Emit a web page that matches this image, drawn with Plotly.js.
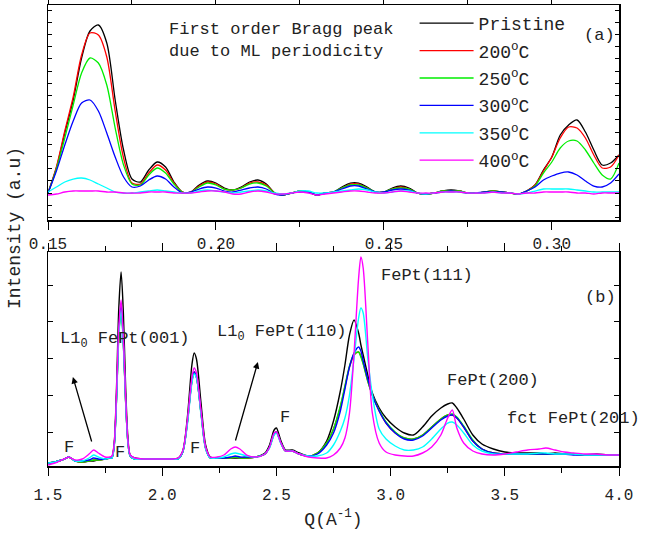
<!DOCTYPE html>
<html><head><meta charset="utf-8">
<script src="https://cdn.plot.ly/plotly-3.0.1.min.js"></script>
<style>html,body{margin:0;padding:0;background:#fff}</style>
</head><body>
<div id="chart" style="width:647px;height:536px"></div>
<script>
// ---- panel (a): low-angle region ----
const seriesNames = ['Pristine','200<sup style="font-size:12px">o</sup>C','250<sup style="font-size:12px">o</sup>C','300<sup style="font-size:12px">o</sup>C','350<sup style="font-size:12px">o</sup>C','400<sup style="font-size:12px">o</sup>C'];
const seriesColors = ['#000000','#ff0000','#00ee00','#0000ff','#00ffff','#ff00ff'];

const qA = [0.1500,0.1525,0.1550,0.1575,0.1600,0.1625,0.1650,0.1675,0.1700,0.1725,
0.1750,0.1775,0.1800,0.1825,0.1850,0.1875,0.1900,0.1925,0.1950,0.1975,
0.2000,0.2025,0.2050,0.2075,0.2100,0.2125,0.2150,0.2175,0.2200,0.2225,
0.2250,0.2275,0.2300,0.2325,0.2350,0.2375,0.2400,0.2425,0.2450,0.2475,
0.2500,0.2525,0.2550,0.2575,0.2600,0.2625,0.2650,0.2675,0.2700,0.2725,
0.2750,0.2775,0.2800,0.2825,0.2850,0.2875,0.2900,0.2925,0.2950,0.2975,
0.3000,0.3025,0.3050,0.3075,0.3100,0.3125,0.3150,0.3175,0.3200];

const aPristine = [0.00,0.25,0.60,0.93,1.35,1.62,1.68,1.50,0.93,0.43,
0.14,0.11,0.23,0.31,0.26,0.11,0.01,0.01,0.08,0.12,
0.10,0.05,0.03,0.06,0.11,0.13,0.09,0.00,-0.02,0.00,
0.02,0.01,-0.02,0.00,0.01,0.06,0.10,0.10,0.06,0.01,
0.01,0.05,0.07,0.05,0.00,-0.01,0.00,0.02,0.03,0.02,
0.00,0.00,0.01,0.02,0.01,0.00,-0.01,0.02,0.08,0.23,
0.36,0.58,0.68,0.73,0.61,0.43,0.28,0.30,0.38];
const a200 = [0.00,0.26,0.62,0.96,1.38,1.60,1.58,1.36,0.82,0.35,
0.10,0.09,0.20,0.28,0.23,0.10,0.01,0.01,0.07,0.11,
0.09,0.04,0.03,0.05,0.10,0.11,0.08,0.00,-0.02,0.00,
0.02,0.01,-0.02,0.00,0.01,0.05,0.09,0.09,0.05,0.01,
0.01,0.04,0.06,0.04,0.00,-0.01,0.00,0.02,0.02,0.02,
0.00,0.00,0.01,0.02,0.01,0.00,-0.01,0.02,0.08,0.22,
0.36,0.55,0.66,0.65,0.55,0.38,0.25,0.26,0.38];
const a250 = [0.00,0.24,0.55,0.88,1.20,1.35,1.30,1.08,0.65,0.28,
0.09,0.08,0.18,0.25,0.20,0.09,0.01,0.01,0.06,0.10,
0.08,0.04,0.03,0.05,0.09,0.10,0.07,0.00,-0.02,0.00,
0.02,0.01,-0.02,0.00,0.01,0.05,0.08,0.08,0.05,0.01,
0.01,0.04,0.05,0.04,0.00,-0.01,0.00,0.02,0.02,0.02,
0.00,0.00,0.01,0.02,0.01,0.00,-0.01,0.02,0.07,0.20,
0.31,0.45,0.52,0.52,0.43,0.30,0.18,0.14,0.30];
const a300 = [0.00,0.22,0.48,0.72,0.90,0.93,0.82,0.60,0.36,0.16,
0.06,0.07,0.13,0.17,0.14,0.06,0.00,0.01,0.04,0.06,
0.05,0.02,0.01,0.03,0.05,0.06,0.04,-0.01,-0.02,0.00,
0.01,0.01,-0.02,0.00,0.01,0.04,0.07,0.07,0.04,0.01,
0.01,0.03,0.04,0.03,0.00,-0.01,0.00,0.01,0.02,0.01,
0.00,0.00,0.01,0.01,0.01,0.00,-0.01,0.02,0.06,0.13,
0.17,0.20,0.21,0.18,0.12,0.07,0.06,0.10,0.19];
const a350 = [0.01,0.06,0.11,0.14,0.15,0.13,0.09,0.05,0.01,0.00,
0.00,0.01,0.02,0.03,0.02,0.01,0.00,0.00,0.02,0.03,
0.02,0.01,0.00,0.01,0.02,0.03,0.02,0.00,-0.01,0.00,
0.02,0.02,0.00,0.00,0.01,0.02,0.03,0.04,0.03,0.01,
0.00,0.01,0.02,0.02,0.00,-0.01,0.00,0.01,0.01,0.01,
0.00,0.00,0.00,0.01,0.00,0.00,-0.01,0.00,0.02,0.04,
0.04,0.04,0.04,0.03,0.02,0.01,0.01,0.01,0.01];
const a400 = [-0.02,-0.01,0.01,0.02,0.02,0.02,0.02,0.01,0.01,0.00,
0.00,0.00,0.01,0.01,0.01,0.00,0.00,0.00,0.01,0.02,
0.02,0.01,-0.01,-0.01,0.01,0.02,0.01,-0.01,-0.01,0.00,
0.01,0.00,-0.02,-0.01,0.00,0.01,0.02,0.02,0.01,0.00,
0.00,0.01,0.02,0.01,0.00,0.00,0.00,0.01,0.01,0.01,
0.00,0.00,0.00,0.01,0.00,0.00,-0.01,0.00,0.00,0.01,
0.01,0.01,0.01,0.00,0.00,-0.01,0.00,0.00,0.00];

// ---- panel (b): wide-angle region ----
const qB = [1.50,1.53,1.56,1.58,1.59,1.60,1.62,1.65,1.68,1.70,
1.72,1.75,1.77,1.78,1.79,1.80,1.81,1.82,1.83,1.84,
1.85,1.86,1.88,1.92,1.96,2.00,2.04,2.07,2.09,2.11,
2.13,2.14,2.15,2.17,2.19,2.21,2.24,2.27,2.30,2.32,
2.34,2.37,2.41,2.45,2.47,2.49,2.50,2.52,2.54,2.57,
2.60,2.64,2.68,2.72,2.75,2.78,2.80,2.82,2.84,2.86,
2.87,2.88,2.90,2.92,2.95,2.98,3.02,3.06,3.10,3.14,
3.18,3.22,3.25,3.27,3.29,3.32,3.36,3.40,3.45,3.50,
3.55,3.60,3.65,3.68,3.72,3.76,3.80,3.85,3.90,3.95,4.00];

const bPristine = [0.00,0.01,0.03,0.05,0.06,0.05,0.02,0.01,0.02,0.02,
0.03,0.04,0.05,0.06,0.20,0.75,1.55,1.91,1.50,0.75,
0.25,0.08,0.05,0.04,0.04,0.04,0.04,0.05,0.12,0.45,
0.98,1.10,1.04,0.60,0.18,0.06,0.05,0.05,0.05,0.05,
0.05,0.05,0.06,0.10,0.18,0.33,0.35,0.22,0.13,0.13,
0.10,0.07,0.10,0.22,0.42,0.72,0.98,1.28,1.43,1.30,
1.18,1.08,0.88,0.70,0.55,0.45,0.36,0.30,0.28,0.36,
0.47,0.55,0.59,0.60,0.55,0.44,0.28,0.19,0.14,0.11,
0.10,0.10,0.10,0.09,0.10,0.09,0.09,0.08,0.09,0.08,0.08];
const b200 = [0.00,0.01,0.03,0.05,0.06,0.05,0.02,0.01,0.02,0.03,
0.03,0.04,0.05,0.05,0.18,0.64,1.28,1.56,1.20,0.61,
0.21,0.07,0.04,0.04,0.04,0.04,0.04,0.04,0.11,0.40,
0.82,0.91,0.86,0.50,0.15,0.05,0.05,0.05,0.05,0.06,
0.05,0.05,0.06,0.09,0.16,0.29,0.31,0.20,0.12,0.12,
0.09,0.07,0.10,0.20,0.34,0.56,0.76,0.96,1.08,1.11,
1.07,1.00,0.82,0.68,0.52,0.40,0.30,0.25,0.24,0.28,
0.36,0.44,0.48,0.48,0.45,0.36,0.22,0.14,0.10,0.09,
0.09,0.09,0.09,0.09,0.09,0.09,0.09,0.08,0.08,0.08,0.08];
const b250 = [0.00,0.01,0.03,0.05,0.06,0.05,0.02,0.01,0.02,0.03,
0.03,0.04,0.05,0.05,0.18,0.64,1.28,1.55,1.20,0.61,
0.21,0.07,0.04,0.04,0.04,0.04,0.04,0.04,0.11,0.40,
0.82,0.90,0.86,0.50,0.15,0.05,0.05,0.05,0.05,0.06,
0.05,0.05,0.06,0.09,0.16,0.29,0.31,0.20,0.12,0.12,
0.09,0.07,0.10,0.20,0.34,0.57,0.77,0.97,1.09,1.11,
1.06,0.99,0.82,0.68,0.53,0.41,0.31,0.25,0.24,0.28,
0.36,0.44,0.48,0.49,0.46,0.37,0.23,0.14,0.10,0.09,
0.09,0.09,0.09,0.09,0.09,0.09,0.09,0.08,0.08,0.08,0.08];
const b300 = [0.00,0.01,0.03,0.05,0.06,0.05,0.02,0.02,0.03,0.05,
0.04,0.04,0.05,0.05,0.18,0.65,1.30,1.58,1.22,0.62,
0.21,0.07,0.04,0.04,0.04,0.04,0.04,0.04,0.11,0.40,
0.82,0.91,0.86,0.50,0.15,0.05,0.05,0.05,0.06,0.07,
0.06,0.06,0.06,0.09,0.16,0.29,0.31,0.20,0.12,0.12,
0.09,0.07,0.09,0.18,0.30,0.52,0.74,0.96,1.10,1.16,
1.12,1.02,0.84,0.68,0.52,0.40,0.30,0.24,0.23,0.27,
0.35,0.43,0.47,0.48,0.45,0.36,0.22,0.14,0.10,0.09,
0.09,0.09,0.09,0.09,0.09,0.09,0.08,0.08,0.08,0.08,0.08];
const b350 = [0.00,0.01,0.03,0.05,0.06,0.05,0.02,0.02,0.05,0.08,
0.06,0.04,0.05,0.05,0.17,0.62,1.25,1.53,1.18,0.60,
0.20,0.07,0.04,0.04,0.04,0.04,0.04,0.04,0.11,0.38,
0.80,0.89,0.85,0.48,0.14,0.05,0.05,0.06,0.09,0.10,
0.09,0.07,0.06,0.09,0.15,0.28,0.30,0.19,0.12,0.12,
0.09,0.07,0.07,0.10,0.18,0.32,0.45,0.68,1.05,1.45,
1.55,1.50,1.05,0.68,0.34,0.24,0.17,0.13,0.13,0.16,
0.24,0.34,0.40,0.41,0.38,0.30,0.18,0.12,0.09,0.09,
0.09,0.09,0.10,0.10,0.09,0.09,0.09,0.08,0.08,0.08,0.08];
const b400 = [-0.02,0.00,0.03,0.05,0.06,0.05,0.03,0.04,0.09,0.13,
0.10,0.06,0.06,0.07,0.20,0.70,1.35,1.63,1.25,0.65,
0.22,0.08,0.05,0.04,0.04,0.04,0.04,0.05,0.12,0.42,
0.85,0.95,0.90,0.52,0.16,0.06,0.06,0.08,0.14,0.16,
0.14,0.08,0.06,0.09,0.16,0.30,0.31,0.20,0.12,0.12,
0.09,0.06,0.05,0.05,0.08,0.15,0.25,0.50,1.10,1.85,
2.06,1.95,1.20,0.50,0.20,0.11,0.08,0.07,0.07,0.10,
0.16,0.28,0.45,0.53,0.35,0.20,0.12,0.09,0.08,0.09,
0.11,0.13,0.14,0.15,0.13,0.11,0.10,0.09,0.09,0.08,0.08];

const topSeries = [aPristine,a200,a250,a300,a350,a400];
const botSeries = [bPristine,b200,b250,b300,b350,b400];

const FONT = 'Liberation Mono, Courier New, monospace';
const traces = [];
topSeries.forEach((ys,i)=>{
  traces.push({x:qA, y:ys, type:'scatter', mode:'lines', name:seriesNames[i],
    legendgroup:'g'+i, xaxis:'x', yaxis:'y',
    line:{color:seriesColors[i], width:1.3, shape:'spline', smoothing:0.8}});
});
botSeries.forEach((ys,i)=>{
  traces.push({x:qB, y:ys, type:'scatter', mode:'lines', name:seriesNames[i],
    legendgroup:'g'+i, showlegend:false, xaxis:'x2', yaxis:'y2',
    line:{color:seriesColors[i], width:1.4, shape:'spline', smoothing:0.8}});
});

const axLine = {showline:true, linecolor:'#000', linewidth:1.5, mirror:'ticks', showgrid:false, zeroline:false, tickcolor:'#000'};
const ann = (x,y,text,xref,yref,opts)=>Object.assign({x,y,text,xref,yref,showarrow:false,xanchor:'left',yanchor:'middle',font:{family:FONT,size:17,color:'#222'}},opts||{});

const layout = {
  width:647, height:536,
  margin:{l:48, r:28, t:5, b:70},
  paper_bgcolor:'#fff', plot_bgcolor:'#fff',
  font:{family:FONT, size:16, color:'#222'},
  showlegend:true,
  legend:{x:0.642, y:1.0, xanchor:'left', yanchor:'top', bgcolor:'rgba(0,0,0,0)',
    font:{family:FONT, size:18, color:'#222'}, tracegroupgap:1, itemwidth:54, traceorder:'grouped'},
  xaxis:Object.assign({anchor:'y', domain:[0,1], range:[0.15,0.32], tick0:0.15, dtick:0.05, tickformat:'.2f',
    ticks:'outside', ticklen:8, minor:{dtick:0.025, ticklen:5, ticks:'outside', tickcolor:'#000'}}, axLine),
  yaxis:Object.assign({anchor:'x', domain:[0.5336,1], range:[-0.27,1.88], showticklabels:false,
    ticks:'inside', ticklen:4, tick0:0, dtick:0.122}, axLine),
  xaxis2:Object.assign({anchor:'y2', domain:[0,1], range:[1.5,4.0], tick0:1.5, dtick:0.5, tickformat:'.1f',
    ticks:'outside', ticklen:8, ticklabelstandoff:5, minor:{dtick:0.25, ticklen:5, ticks:'outside', tickcolor:'#000'},
    title:{text:'Q(A<sup>-1</sup>)', font:{family:FONT, size:18, color:'#222'}, standoff:8}}, axLine),
  yaxis2:Object.assign({anchor:'x2', domain:[0,0.4642], range:[-0.03,2.11], showticklabels:false,
    ticks:'inside', ticklen:5, tick0:0.31, dtick:0.367}, axLine),
  annotations:[
    ann(-0.058,0.516,'Intensity (a.u)','paper','paper',{textangle:-90,xanchor:'center',font:{family:FONT,size:18,color:'#222'}}),
    ann(0.1854,1.53,'First order Bragg peak<br>due to ML periodicity','x','y',{align:'left'}),
    ann(0.3143,1.58,'(a)','x','y',{xanchor:'center'}),
    ann(3.917,1.66,'(b)','x2','y2',{xanchor:'center'}),
    ann(1.544,1.23,'L1<sub>0</sub> FePt(001)','x2','y2'),
    ann(2.231,1.30,'L1<sub>0</sub> FePt(110)','x2','y2'),
    ann(1.592,0.16,'F','x2','y2',{xanchor:'center'}),
    ann(1.815,0.11,'F','x2','y2',{xanchor:'center'}),
    ann(2.144,0.15,'F','x2','y2',{xanchor:'center'}),
    ann(2.538,0.46,'F','x2','y2',{xanchor:'center'}),
    ann(2.949,1.88,'FePt(111)','x2','y2'),
    ann(3.238,0.83,'FePt(200)','x2','y2'),
    ann(3.501,0.45,'fct FePt(201)','x2','y2'),
    {x:1.609,y:0.86,ax:1.693,ay:0.20,xref:'x2',yref:'y2',axref:'x2',ayref:'y2',text:'',showarrow:true,arrowhead:2,arrowsize:1,arrowwidth:1.3,arrowcolor:'#000'},
    {x:2.419,y:1.01,ax:2.319,ay:0.21,xref:'x2',yref:'y2',axref:'x2',ayref:'y2',text:'',showarrow:true,arrowhead:2,arrowsize:1,arrowwidth:1.3,arrowcolor:'#000'}
  ]
};
Plotly.newPlot('chart', traces, layout, {staticPlot:true, displayModeBar:false});
</script>
</body></html>
